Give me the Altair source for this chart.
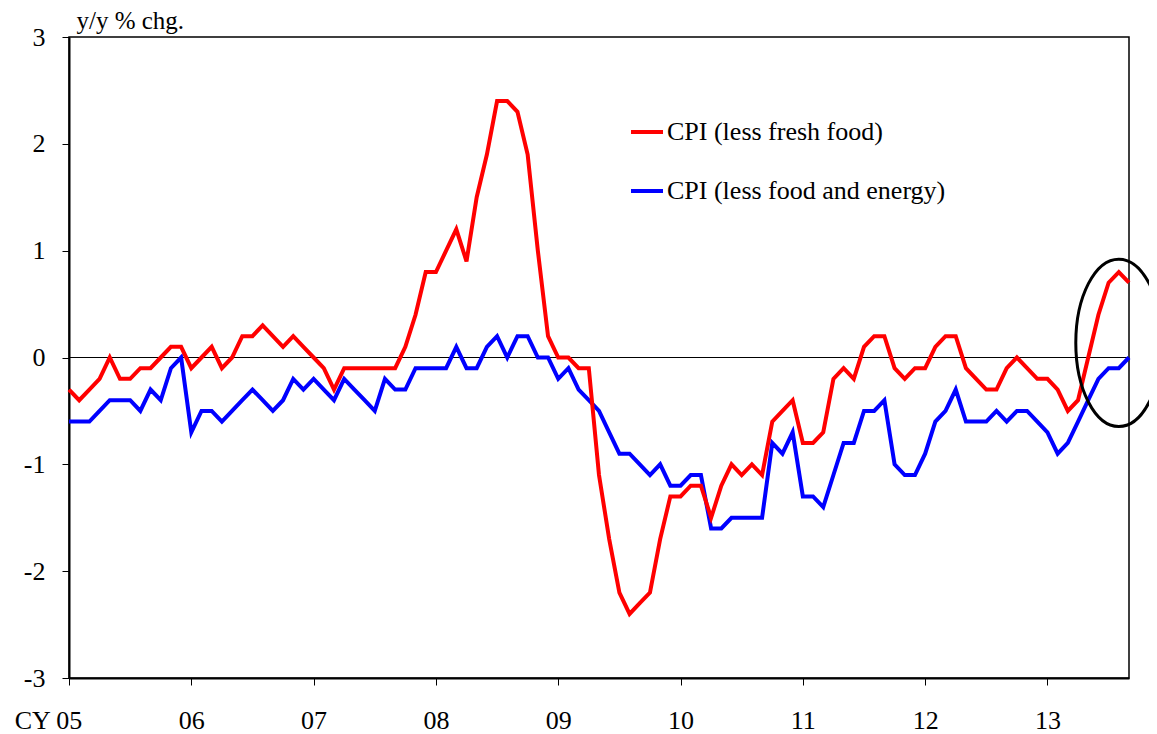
import altair as alt
import pandas as pd

# ---- data -------------------------------------------------------------
tick_labels = ["CY 05", "06", "07", "08", "09", "10", "11", "12", "13"]
tick_months = [0, 12, 24, 36, 48, 60, 72, 84, 96]
y_ticks = [-3, -2, -1, 0, 1, 2, 3]
series_names = ["CPI (less fresh food)", "CPI (less food and energy)"]
series_colors = ["#ff0000", "#0000ff"]

# monthly, Jan 2005 .. Sep 2013 (month index 0 = Jan 2005)
months = list(range(105))

cpi_less_fresh_food = [
    -0.3, -0.4, -0.3, -0.2, 0.0, -0.2, -0.2, -0.1, -0.1, 0.0, 0.1, 0.1,      # 2005
    -0.1, 0.0, 0.1, -0.1, 0.0, 0.2, 0.2, 0.3, 0.2, 0.1, 0.2, 0.1,            # 2006
    0.0, -0.1, -0.3, -0.1, -0.1, -0.1, -0.1, -0.1, -0.1, 0.1, 0.4, 0.8,      # 2007
    0.8, 1.0, 1.2, 0.9, 1.5, 1.9, 2.4, 2.4, 2.3, 1.9, 1.0, 0.2,              # 2008
    0.0, 0.0, -0.1, -0.1, -1.1, -1.7, -2.2, -2.4, -2.3, -2.2, -1.7, -1.3,    # 2009
    -1.3, -1.2, -1.2, -1.5, -1.2, -1.0, -1.1, -1.0, -1.1, -0.6, -0.5, -0.4,  # 2010
    -0.8, -0.8, -0.7, -0.2, -0.1, -0.2, 0.1, 0.2, 0.2, -0.1, -0.2, -0.1,     # 2011
    -0.1, 0.1, 0.2, 0.2, -0.1, -0.2, -0.3, -0.3, -0.1, 0.0, -0.1, -0.2,      # 2012
    -0.2, -0.3, -0.5, -0.4, 0.0, 0.4, 0.7, 0.8, 0.7,                         # 2013
]

cpi_less_food_energy = [
    -0.6, -0.6, -0.6, -0.5, -0.4, -0.4, -0.4, -0.5, -0.3, -0.4, -0.1, 0.0,   # 2005
    -0.7, -0.5, -0.5, -0.6, -0.5, -0.4, -0.3, -0.4, -0.5, -0.4, -0.2, -0.3,  # 2006
    -0.2, -0.3, -0.4, -0.2, -0.3, -0.4, -0.5, -0.2, -0.3, -0.3, -0.1, -0.1,  # 2007
    -0.1, -0.1, 0.1, -0.1, -0.1, 0.1, 0.2, 0.0, 0.2, 0.2, 0.0, 0.0,          # 2008
    -0.2, -0.1, -0.3, -0.4, -0.5, -0.7, -0.9, -0.9, -1.0, -1.1, -1.0, -1.2,  # 2009
    -1.2, -1.1, -1.1, -1.6, -1.6, -1.5, -1.5, -1.5, -1.5, -0.8, -0.9, -0.7,  # 2010
    -1.3, -1.3, -1.4, -1.1, -0.8, -0.8, -0.5, -0.5, -0.4, -1.0, -1.1, -1.1,  # 2011
    -0.9, -0.6, -0.5, -0.3, -0.6, -0.6, -0.6, -0.5, -0.6, -0.5, -0.5, -0.6,  # 2012
    -0.7, -0.9, -0.8, -0.6, -0.4, -0.2, -0.1, -0.1, 0.0,                     # 2013
]

# highlighted recent period (ellipse annotation)
ellipse_month = [103.0]
ellipse_value = [0.137]

# ---- build ------------------------------------------------------------
FONT = "Liberation Serif"
FS = 26

red_df = pd.DataFrame({"month": months, "value": cpi_less_fresh_food,
                       "series": series_names[0]})
blue_df = pd.DataFrame({"month": months, "value": cpi_less_food_energy,
                        "series": series_names[1]})
ell_df = pd.DataFrame({"month": ellipse_month, "value": ellipse_value})

label_array = "[" + ",".join("'%s'" % t for t in tick_labels) + "]"

x_enc = alt.X(
    "month:Q",
    scale=alt.Scale(domain=[0, 104], nice=False, zero=False),
    axis=alt.Axis(
        values=tick_months,
        labelExpr=label_array + "[round(datum.value / 12)]",
        title=None,
        grid=False,
        labelFont=FONT, labelFontSize=FS, labelColor="black",
        labelFlush=False, labelOverlap=False,
        labelPadding=22,
        labelOffset={"condition": {"test": "datum.value === 0", "value": -21},
                     "value": 0},
        tickSize=7, tickColor="black", tickWidth=1,
        domainColor="black", domainWidth=2,
    ),
)

y_enc = alt.Y(
    "value:Q",
    scale=alt.Scale(domain=[-3, 3], nice=False, zero=False),
    axis=alt.Axis(
        values=y_ticks,
        labelExpr="'' + datum.value",
        title="y/y % chg.",
        titleAngle=0, titleAlign="left", titleBaseline="alphabetic",
        titleX=7, titleY=-9,
        titleFont=FONT, titleFontSize=25, titleFontWeight="normal",
        titleColor="black",
        grid=False,
        labelFont=FONT, labelFontSize=FS, labelColor="black",
        labelPadding=17, labelFlush=False,
        tickSize=7, tickColor="black", tickWidth=1,
        domainColor="black", domainWidth=2,
    ),
)

color_enc = alt.Color(
    "series:N",
    scale=alt.Scale(domain=series_names, range=series_colors),
    legend=alt.Legend(
        title=None, orient="none", legendX=560, legendY=77,
        labelFont=FONT, labelFontSize=FS, labelColor="black",
        labelLimit=0, labelOffset=2,
        symbolType="stroke", symbolSize=1024, symbolStrokeWidth=4,
        rowPadding=28, padding=0,
    ),
)

zero_rule = alt.Chart(red_df).mark_rule(color="black", strokeWidth=1).encode(
    y=alt.datum(0)
)

blue_line = alt.Chart(blue_df).mark_line(strokeWidth=4).encode(
    x=x_enc, y=y_enc, color=color_enc
)
red_line = alt.Chart(red_df).mark_line(strokeWidth=4).encode(
    x=x_enc, y=y_enc, color=color_enc
)

ellipse_path = ("M 0 -1 C 0.284 -1 0.514 -0.5523 0.514 0 "
                "C 0.514 0.5523 0.284 1 0 1 "
                "C -0.284 1 -0.514 0.5523 -0.514 0 "
                "C -0.514 -0.5523 -0.284 -1 0 -1 Z")

ellipse = alt.Chart(ell_df).mark_point(
    shape=ellipse_path, size=28023, filled=False,
    stroke="black", strokeWidth=3, opacity=1,
).encode(x="month:Q", y="value:Q")

chart = (
    alt.layer(zero_rule, blue_line, red_line, ellipse)
    .properties(
        width=1060, height=641,
        autosize=alt.AutoSizeParams(type="none"),
        padding={"left": 61, "top": 29, "right": 20, "bottom": 56},
        background="white",
    )
    .configure_view(stroke="black", strokeWidth=1.5)
)

chart.save("out.html", embed_options={"renderer": "svg", "actions": False})
